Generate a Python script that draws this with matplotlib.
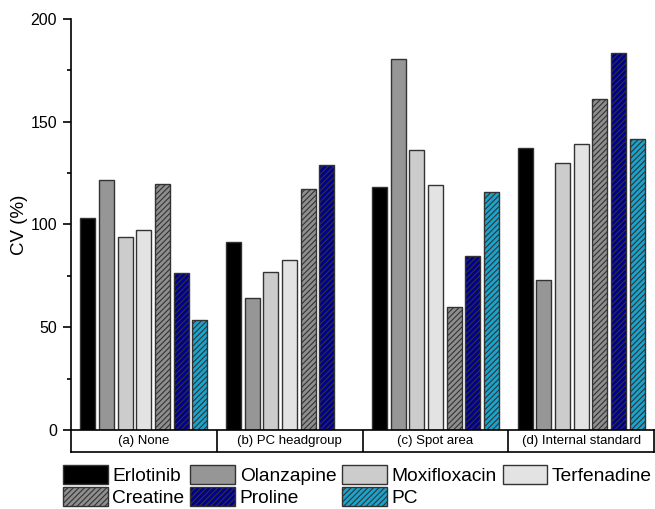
"""
Bar chart of the CV (%) per compound for each normalisation method.
"""

import matplotlib
matplotlib.use("Agg")
import matplotlib.pyplot as plt
from matplotlib.patches import Patch
import numpy as np

plt.rcParams['font.family'] = ['Liberation Sans', 'DejaVu Sans']
plt.rcParams['hatch.linewidth'] = 0.8

# ============================== data =========================================

methods = ["(a) None", "(b) PC headgroup", "(c) Spot area", "(d) Internal standard"]
compounds = ["Erlotinib", "Olanzapine", "Moxifloxacin", "Terfenadine",
             "Creatine", "Proline", "PC"]

# CV (%) per compound, one value per method (nan = not determined)
erlotinib = [103.2, 91.6, 118.4, 137.4]
olanzapine = [121.8, 64.1, 180.5, 73.1]
moxifloxacin = [93.9, 76.8, 136.1, 129.7]
terfenadine = [97.3, 82.9, 119.2, 139.3]
creatine = [119.6, 117.3, 59.7, 161.1]
proline = [76.2, 129.1, 84.8, 183.3]
pc = [53.5, np.nan, 116.0, 141.5]

series = [erlotinib, olanzapine, moxifloxacin, terfenadine, creatine, proline, pc]
colors = ["#000000", "#969696", "#cccccc", "#e3e3e3", "#8e8e8e", "#00008f", "#1aa3cc"]
hatches = [None, None, None, None, "//////", "//////", "//////"]
edge = "#333333"

# ============================== plot =========================================

fig = plt.figure(figsize=(6.55, 5.09), dpi=100)
ax = fig.add_axes([71 / 655, 79 / 509, 583 / 655, 411 / 509])

pitch = 0.128
width = 0.103
group_x = np.arange(len(methods)) + 0.5
for k, (vals, col, hat) in enumerate(zip(series, colors, hatches)):
    ax.bar(group_x + (k - 3) * pitch, vals, width=width, color=col,
           edgecolor=edge, linewidth=1.0, hatch=hat)

ax.set_xlim(0, 4)
ax.set_ylim(0, 200)
ax.set_yticks([0, 50, 100, 150, 200])
ax.set_yticks([25, 75, 125, 175], minor=True)
ax.tick_params(axis='y', which='major', direction='out', length=6, width=1.2,
               labelsize=11.5, pad=4)
ax.tick_params(axis='y', which='minor', direction='out', length=3, width=1.2)
ax.set_xticks([])
for side in ["top", "right", "bottom"]:
    ax.spines[side].set_visible(False)
ax.spines["left"].set_linewidth(1.2)
ax.set_ylabel("CV (%)", fontsize=13.5, labelpad=2)

# category table under the bars
tab = fig.add_axes([71 / 655, 57 / 509, 583 / 655, 22 / 509])
tab.set_xlim(0, 4)
tab.set_ylim(0, 1)
tab.set_xticks([])
tab.set_yticks([])
for s in tab.spines.values():
    s.set_linewidth(1.2)
for i, name in enumerate(methods):
    if i > 0:
        tab.axvline(i, color="black", linewidth=1.2)
    tab.text(i + 0.5, 0.48, name, ha="center", va="center", fontsize=9.5)

# legend filled row by row
order = [0, 4, 1, 5, 2, 6, 3]
handles = [Patch(facecolor=colors[i], edgecolor=edge, hatch=hatches[i],
                 linewidth=1.0, label=compounds[i]) for i in order]
fig.legend(handles=handles, ncol=4, loc="upper left",
           bbox_to_anchor=(63 / 655, 1 - 465 / 509), bbox_transform=fig.transFigure,
           frameon=False, fontsize=13.8, handlelength=2.33, handleheight=1.18,
           handletextpad=0.25, columnspacing=0.3, labelspacing=0.08,
           borderpad=0, borderaxespad=0)

fig.savefig("out.png", dpi=100)
